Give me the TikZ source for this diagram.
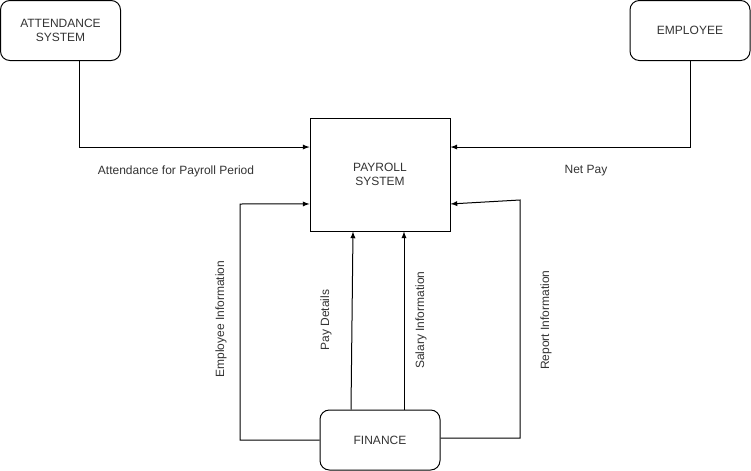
\documentclass[tikz,border=0pt]{standalone}
\usepackage{fontspec}
\setmainfont{Liberation Sans}
\usetikzlibrary{positioning}

\tikzset{
  entity/.style={draw, rounded corners=7pt, minimum width=90pt, minimum height=45pt, align=center, font=\fontsize{9pt}{10.5pt}\selectfont, text=black!80},
  process/.style={draw, minimum width=105pt, minimum height=84.75pt, align=center, font=\fontsize{9pt}{10.5pt}\selectfont, text=black!80},
  flowlabel/.style={font=\fontsize{9pt}{10.5pt}\selectfont, text=black!80, inner sep=0pt}
}

\begin{document}
\begin{tikzpicture}[x=0.75pt, y=-0.75pt, line width=0.75pt]
\useasboundingbox (0,0) rectangle (751,471);
\node [entity] (att) at (60.5,30.5) {ATTENDANCE\\SYSTEM};
\node [entity] (emp) at (690,30.5) {EMPLOYEE};
\node [process] (pay) at (380,174.5) {PAYROLL\\SYSTEM};
\node [entity] (fin) at (380,440) {FINANCE};

\draw [-latex] ([xshift=14.6pt]att.south) |- ([yshift=20.6pt]pay.west);
\draw [-latex] (emp.south) |- ([yshift=20.6pt]pay.east);
\coordinate (ei) at (240,204);
\draw [-latex] (fin.west) -| (ei) -- ([yshift=-22.1pt]pay.west);
\coordinate (ri) at (520,200);
\draw [-latex] ([yshift=1.5pt]fin.east) -| (ri) -- ([yshift=-22.1pt]pay.east);
\draw [-latex] ([xshift=-21.75pt]fin.north) -- ([xshift=-20.25pt]pay.south);
\draw [-latex] ([xshift=18pt]fin.north) -- ([xshift=18pt]pay.south);

\node [flowlabel] (attlbl) at (176,171) {Attendance for Payroll Period};
\node [flowlabel] (netlbl) at (586,171) {Net Pay};
\node [flowlabel, rotate=90] (eilbl) at (221,319) {Employee Information};
\node [flowlabel, rotate=90] (pdlbl) at (326,320) {Pay Details};
\node [flowlabel, rotate=90] (silbl) at (421,320) {Salary Information};
\node [flowlabel, rotate=90] (rilbl) at (546,320) {Report Information};
\end{tikzpicture}
\end{document}
